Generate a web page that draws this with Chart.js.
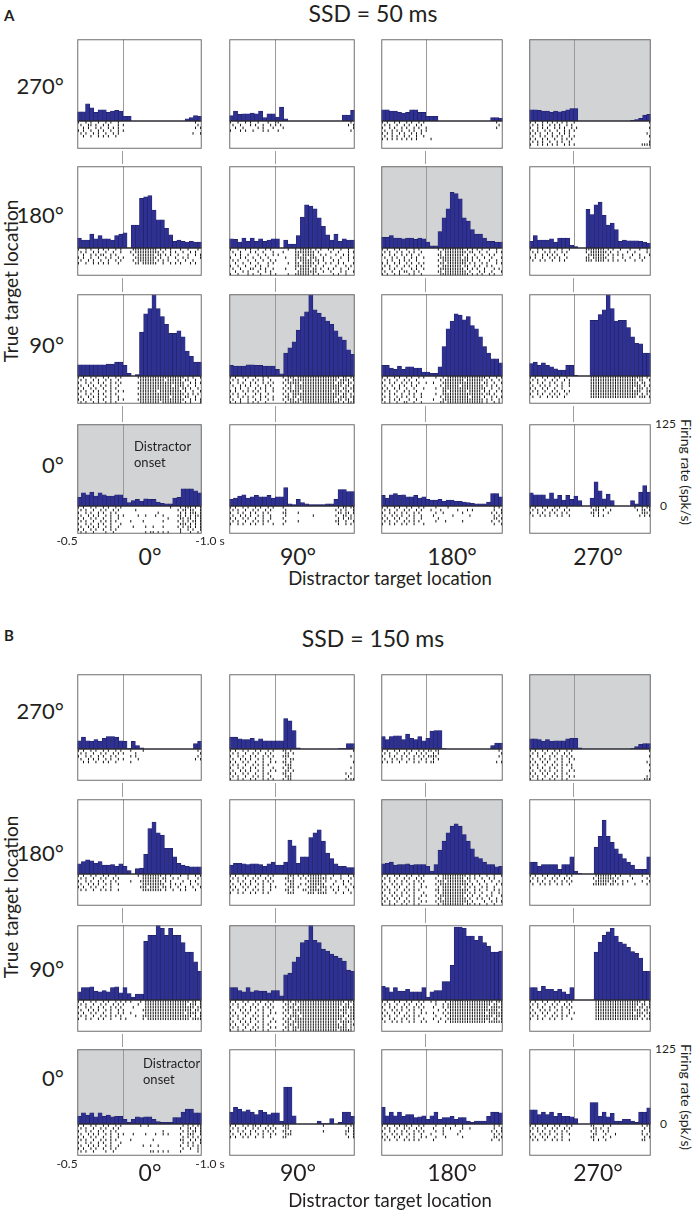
<!DOCTYPE html>
<html>
<head>
<meta charset="utf-8">
<script src="https://cdn.jsdelivr.net/npm/chart.js@4.4.1/dist/chart.umd.min.js"></script>
<style>
body { margin:0; background:#fff; font-family: Lato, "Open Sans", sans-serif; color:#231f20; }
#fig { position:relative; width:692px; height:1211px; overflow:hidden; }
.t { position:absolute; white-space:nowrap; line-height:1; }
canvas { position:absolute; }
.vl { position:absolute; width:1px; background:#9d9d9d; }
svg { position:absolute; left:0; top:0; }
</style>
</head>
<body>
<div id="fig"></div>
<script>
// time axis: 30 bins of 50 ms from -0.55 s, raster strings: 50 cells of 30 ms
const binStart = -0.55;
const binWidth = 0.05;
const rasterStep = 0.03;
const timeMax = 0.95;
const rateMax = 125;

const rowLabels = ['270°', '180°', '90°', '0°'];
const colLabels = ['0°', '90°', '180°', '270°'];
const titles = ['SSD = 50 ms', 'SSD = 150 ms'];
const panelTags = ['A', 'B'];

// firing rate (spk/s), one array per distractor location (0, 90, 180, 270)
const rateA270 = [
  [14,14,26,20,13,17,17,13,15,16,15,7,7,0,0,0,0,0,0,0,0,0,0,0,0,0,3,5,8,7],
  [8,15,10,11,11,12,11,15,5,11,11,6,21,3,0,0,0,0,0,0,0,0,0,0,0,0,0,9,9,16],
  [17,17,15,15,13,12,13,17,17,13,13,7,7,7,0,0,0,0,0,0,0,0,0,0,0,0,0,5,5,4],
  [17,17,16,15,15,13,15,14,15,17,19,19,0,0,0,0,0,0,0,0,0,0,0,0,0,1,2,4,9,10]
];
const rateA180 = [
  [15,12,12,21,14,19,14,14,12,19,21,23,0,35,35,76,78,80,58,43,43,30,20,10,12,10,9,10,9,9],
  [14,13,9,15,10,15,10,14,10,12,14,14,0,12,6,6,19,47,66,64,60,46,33,20,12,21,10,14,12,12],
  [16,16,19,15,15,14,15,15,13,15,14,9,3,3,25,46,60,85,83,75,46,41,28,21,21,15,10,10,9,9],
  [10,19,12,12,12,14,9,15,15,15,4,2,0,0,59,51,66,70,50,35,38,28,10,12,11,11,11,10,9,7]
];
const rateA90 = [
  [17,17,17,17,17,17,17,18,18,21,21,16,4,0,2,67,95,103,124,103,91,79,65,65,69,60,38,30,21,21],
  [16,15,15,15,17,17,16,16,15,15,15,10,3,35,43,52,70,91,98,124,101,96,90,84,79,69,60,55,40,33],
  [16,16,12,10,15,10,14,14,12,12,6,6,4,4,14,45,72,84,95,93,86,91,77,72,60,45,35,26,26,20],
  [19,21,16,20,16,14,11,9,9,16,16,1,0,0,0,85,85,94,101,124,103,84,85,85,74,60,50,49,35,35]
];
const rateA0 = [
  [13,20,17,21,15,20,17,15,15,17,17,12,5,8,10,7,11,10,10,6,4,3,3,12,13,26,26,26,23,20],
  [10,12,15,17,12,14,16,14,14,16,12,14,14,28,3,2,10,5,3,2,2,2,2,3,3,10,25,25,22,22],
  [16,12,17,19,16,17,14,14,16,12,14,10,9,9,10,7,9,9,7,7,6,5,4,3,3,3,6,19,19,14],
  [20,17,17,17,11,20,11,16,9,16,10,15,8,0,0,12,37,23,11,18,8,0,0,0,0,8,3,21,31,21]
];
const rateB270 = [
  [14,20,14,13,16,13,18,21,21,20,14,13,1,13,6,2,0,0,0,0,0,0,0,0,0,0,0,0,9,13],
  [20,20,17,16,16,18,14,17,14,14,14,14,14,51,47,31,2,0,0,0,0,0,0,0,0,0,1,1,9,9],
  [21,16,21,22,22,16,25,18,16,21,14,18,30,31,31,1,0,0,0,0,0,0,0,0,0,0,0,6,10,10],
  [17,17,16,13,16,13,14,14,14,17,18,18,2,0,0,0,0,0,0,0,0,0,0,0,0,1,4,8,9,9]
];
const rateB180 = [
  [17,21,24,22,18,21,15,15,16,13,17,13,6,0,9,10,33,76,87,69,65,43,43,29,18,15,13,12,12,12],
  [15,18,18,17,16,17,17,16,13,17,20,15,15,20,57,47,18,29,29,61,69,74,55,35,26,17,13,13,11,11],
  [17,18,20,15,16,16,17,15,16,16,16,13,5,16,40,55,69,80,84,80,66,55,42,29,26,20,16,16,12,13],
  [20,20,13,16,16,16,16,8,16,16,29,5,1,0,0,0,45,63,90,63,53,42,34,26,20,15,8,8,8,29]
];
const rateB90 = [
  [14,21,21,22,15,14,16,14,21,22,12,21,11,5,10,10,98,108,108,125,120,108,120,108,108,96,80,80,64,48],
  [21,21,16,14,21,14,16,15,15,12,16,16,7,42,45,64,72,96,100,125,100,96,85,82,77,73,70,65,50,48],
  [23,21,14,21,15,15,18,14,14,14,21,5,14,16,16,31,31,58,122,122,120,107,107,100,107,96,90,80,80,82],
  [21,21,15,23,18,18,15,18,14,10,21,0,0,0,0,0,80,97,108,114,120,107,97,94,88,81,78,70,48,48]
];
const rateB0 = [
  [13,19,15,19,12,19,13,15,12,13,13,8,3,8,12,11,12,12,8,4,3,3,3,11,11,20,25,25,19,19],
  [20,28,25,21,24,20,16,23,20,16,19,19,5,62,62,14,0,0,0,0,0,5,1,1,9,0,3,20,20,13],
  [28,14,20,14,20,13,16,16,11,12,14,8,14,20,8,11,11,13,8,11,11,5,3,5,5,5,13,20,20,19],
  [24,24,16,20,16,20,13,18,13,13,12,9,0,0,0,36,36,13,20,12,18,5,5,8,8,5,3,20,20,27]
];

// spike rasters, one string per trial, '|' = spike
const rasterA270 = [
  ["|..|.|..|. .|.|..|... .......... .......... .......|..",
   ".|..||.|.. |.|...|.|. .......... .......... ........|.",
   "..|.|..|.| ..|.|.|... .......... .......... .......|.|",
   "|.|..|..|. |..|..|.|. .......... .......... ..........",
   ".|.|..|.|. .|..|.|... .......... .......... ......|..|",
   "..|..|..|. |.|..|.... .......... .......... .........."],
  ["|..|..|.|. .|...|..|| .......... .......... ........|.",
   ".|..|...|. |..|..|.|. |......... .......... .......|.|",
   "..|..|.... .|.|...|.. .|........ .......... .........|",
   "|...|.|..| ...|.|...| .......... .......... ........|."],
  ["|.|..|.|.. |.|..|.|.. .......... .......... .......|..",
   ".|.|..|..| .|..|.|... .......... .......... ........|.",
   "|..|.|..|. |..|.|..|. .......... .......... .......|..",
   ".|..|.|.|. .|.|..|.|. .......... .......... ..........",
   "|.|.|..|.| ..|.|.|... .......... .......... ..........",
   ".|..|.|..| .|..|..|.. .......... .......... ..........",
   "|.|.|.|.|. |.|.|..... |......... .......... .........."],
  ["|.|..|.|.| .|.|.|..|. .......... .......... .........|",
   ".|.|.|..|. |.|..|.|.. .......... .......... ..........",
   "|..|.|.|.. |.|.|..|.| .......... .......... .........|",
   ".|.|..|.|. .|..|.|.|. .......... .......... ..........",
   "|.|.|..|.| ..|.|.|... .......... .......... ........|.",
   ".|..|.|..| .|.|..|.|. .......... .......... .........|",
   "|.|..|.|.. |..|.|.|.. .......... .......... ..........",
   ".|.|.|..|. .|.|..|... .......... .......... .........|",
   "|..|.|.|.| .|..|.|.|. .......... .......... ......||||"]
];
const rasterA180 = [
  ["|..|.|..|. |.|..|.|.. ..|||||||| ||.|.|.|.. .|..|...|.",
   ".|.|..|.|. .|..|..|.. .|.||||||| |||.|..|.| ..|..|.|..",
   "..|..|.|.| |..|.|.... ..|.|||||| |.||.|.|.. |...|..|.|",
   "|.|..|..|. .|.|..|.|. ...||||||| ||.|..|..| ..|.|....|",
   ".|..|.|..| ..|..|.|.. ..|.|||||| |.|.|.|... |..|..|...",
   "|..|..|.|. |.|...|... ...||.|||| ||..|..|.| .|...|.|.."],
  ["|..|..|.|. .|..|.|... ...|..|.|| |||.|.|..| .|..|..|..",
   ".|..|...|. |..|...|.. .|....|||| ||||.|.... |..|...|.|",
   "..|.|..|.. .|..|..|.| ......||.| ||||..|.|. ..|..|.|..",
   "|...|.|..| ..|..|.... ..|...|||| |.|||..|.. |...|..|.|",
   ".|.|...|.. |..|..|.|. ......|.|| |||.||.|.. .|.|...|..",
   "..|..|..|. .|...|.|.. ...|..||.| ||||.|..|. |..|.|...|",
   "|..|..|... |.|..|.... ......|||| |||.|..|.. ..|...|.|.",
   ".|..|...|| ..|.|..|.. ..|...|.|| ||.||.|..| .|..|..|..",
   "..|..|.|.. .|..|.|... .......||| |||||..|.. |...|.|..|",
   "|..|...|.| ..|...|.|. ...|..|||| ||.|.|.... .|.|..|..."],
  ["|.|..|.|.. |..|.|.... ...|.||||| ||||.|.|.| .|..|..|..",
   ".|.|..|.|. .|.|..|... ....|.|||| |||||.||.. |..|...|.|",
   "|..|.|..|. |.|..|.... ...||.|||| ||||.|..|. .|..|.|...",
   ".|..|.|..| ..|.|..|.. ....|||||| |||.||.|.| ..|..|...|",
   "..|.|..|.| .|..|..... ...|.||||| ||||||.|.. |...|..|..",
   "|.|..|.|.. |.|..|.|.. ....||.||| |||||.|.|. .|.|...|.|",
   ".|.|..|..| .|..|.|... ...|.||||| |||.||..|. |..|.|....",
   "|..|.|..|. ..|.|..|.. ....|||||| ||||.|.|.| ..|...|.|.",
   ".|..|..|.| |..|.|.... ...||.|||| |||||.|... |.|..|...|",
   "|.|..|.|.. .|.|..|... ....|||||| ||||||.|.| .|..|.|..."],
  ["|..|.|..|. .|.|..|... ...||||||| |.|.|..|.. .|...|..|.",
   ".|.|..|.|. |..|.|.... ...|.||||| ||.|..|... |..|....|.",
   "..|..|.|.| .|..|..... ....|||||| |.|.|.|.|. ..|..|...|",
   "|.|..|..|. |.|..|.... ...||.|||| ||..|...|. .|...|.|..",
   ".|..|.|..| ..|.|..... ...|||.||| |.|.|.|..| ...|..|..."]
];
const rasterA90 = [
  ["|.|..|.|.. |.|..|.|.. ....|||||| |||||||||| |||.|.|..|",
   ".|.|..|.|. .|.|..|... .....||||| |||||.|||| ||.||..|..",
   "|..|.|..|. |..|.|.|.. ....|||||| |||||||||| |||..|.|.|",
   ".|..|.|..| .|.|..|... .....||||| ||||||||.| |||.|..|..",
   "|.|..|.|.. |..|.|.... ....|||||| |||||||||| |.||.|..|.",
   ".|.|..|.|. .|.|..|.|. .....||||| ||.||||||| ||.|..|..|",
   "|..|.|..|. |..|.|.... ....|||||| |||||||||| |||.|.|.|.",
   ".|..|.|.|. .|.|..|... .....||||| |||||||.|| ||.||..|..",
   "|.|..|..|. |..|..|.|. ....|||||| |||||||||| |||..|.|.|",
   ".|.|..|.|. .|.|.|.... .....||||| |||.|||||| ||.|.|...|"],
  ["|.|..|.|.. |..|.|.... .|.|||.||| |||||||||| ||||.||.||",
   ".|.|..|..| .|.|..|... ..||.||||| |||||||||| |||.||||.|",
   "|..|.|..|. |..|.|.|.. .|.|||||.| |||||||||| ||.|||.||.",
   ".|..|.|.|. .|..|.|... ..|.|.|||| |||||||||| |||||.||.|",
   "..|.|..|.. |.|.|..|.. .|.||.|||| |||||||||| ||||.||.||",
   "|.|..|.|.| .|..|..|.. ..|.||||.| |||||||||| |.|||.||.|",
   ".|.|..|... |.|..|.... .|.|.||||| |||||||||| ||||.||.|.",
   "|..|.|.|.| ..|.|..|.. ..||.||.|| |||||||||| |||.|||.||",
   ".|..|..|.. |.|..|.|.. .|.|||.||| |||||||||| ||.||.||.|",
   "|.|.|..|.| .|..|..... ..|.||||.| |||||||||| ||||.|.|||"],
  ["|.|..|.|.. |.|..|.|.. ..|..|.||| |||||||||| |||.|..|.|",
   ".|.|..|..| .|..|..... ....|.|||| ||||.||||| ||.|.|..|.",
   "|..|.|..|. |.|..|..|. .|...||||| |||||||||| |.||..|..|",
   ".|..|..|.| ..|.|..... ....|.|||| ||.||||||| ||.|.|.|..",
   "|.|..|.|.. |..|...|.. ..|..||||| |||||||||| |||..|..|.",
   ".|.|..|..| .|..|..... .....||.|| |||||.|||| |.|.|..|.|",
   "|..|.|..|. .|.|..|... ..|..||||| |||||||||| ||.||.|...",
   ".|.|..|.|. |..|..|... ....|.|||| ||||||.||| |.|..|.|.|",
   "|..|.|.|.. .|..|..... .|...||||| |||||||||| ||.|.|..|.",
   ".|.|..|..| |..|..|.. .....||.|| |||||||||| |||.|..|.|"],
  ["|.|..|.|.. |.|..|.... .....||||| |||||||||| |||||||.|.",
   ".|.|..|..| .|..|.|... .....||||| |||||||||| ||||.||..|",
   "|..|.|..|. |..|..|... .....||||| |||||||||| |||||.||..",
   ".|..|.|.|. .|.|..|... .....||||| |||||||||| ||||||.|.|",
   "|.|..|.|.. |..|...... .....||||| |||||||||| |||.|||.|.",
   ".|.|..|..| .|..|.|... .....||||| |||||||||| ||||||..||",
   "|..|.|..|. |.|..|.... .....||||| |||||||||| |||||.|.|.",
   ".|..|..|.| .|..|..... .....||||| |||||||||| ||||.|||.|"]
];
const rasterA0 = [
  ["|.|..|.|.. |.|..|.|.. .......... .......|.. .|.|||.|.|",
   ".|.|..|..| .|..|.|... ...|...... .......... |.||.||..|",
   "|..|.|..|. |..|.|.... .......... ..|....... .|.|.|||.|",
   ".|..|.|.|. .|.|..|.|. ....|..|.. .|..|..... ||.|.|.|||",
   "|.|..|.|.. |..|..|... .......... ......|... .||.||.|.|",
   ".|.|..|..| .|.|.|.... .|....|... ....|..... |.|.|.||.|",
   "|..|.|..|. |..|...|.. .......... .......... .|||.|.|.|",
   ".|..|.|.|. .|.|..|... ..|....|.. |...|..... |.|.||.|.|",
   "|.|..|.|.. |..|.|.... .......... .......... .|..|.|..|",
   ".|.|..|... .|..|..... .......|.| |.|.|.|... .|...|..|."],
  ["|.|..|.|.. |.|..|.|.. .|........ .......... ...|.||.||",
   ".|.|..|..| .|..|.|... ..|....... .......... ..|.|.|..|",
   "|..|.|..|. |..|.|.... .||....|.. .......... ...||.||.|",
   ".|..|.|.|. .|.|..|... ..|....... ...|...... ..|..||.|.",
   "|.|..|.|.. |..|..|... .|........ .......... ...|.|.||.",
   ".|.|..|..| .|.|.|.... ..|....|.. .......... ..||..|..|",
   "|..|.|..|. |..|...|.. .|........ .......... ...|..|.|."],
  ["|.|..|.|.. |.|..|.|.. ..|....|.. .......... ......|.|.",
   ".|.|..|..| .|..|.|... |...|..... .|...|.|.. ......|..|",
   "|..|.|..|. |..|.|.... ..|..|.... ...|...... .....|.|.|",
   ".|..|.|.|. .|.|..|... .|.......| ......|... ......|.|.",
   "|.|..|.|.. |..|..|... ...|...... .......... ......||.|",
   ".|.|..|..| .|.|.|.... ..|...|... ...|...... .....|..|.",
   "|..|.|..|. |..|...|.. .......... .......... ......|..|"],
  ["|.|..|.|.. |.|..|.... .....|.||. .|........ ...|..|.||",
   ".|.|..|..| .|..|.|... ......|||. |..|...... ....|.||.|",
   "|..|.|..|. |..|.|.... .....||.|. ..|....... ......|||.",
   ".|..|.|.|. .|.|..|... ......|.|. |......... .....|.|.|"]
];
const rasterB270 = [
  ["|.|..|.|.. |.|..|.|.. .|....|... .......... ........|.",
   ".|.|..|..| .|..|.|.|. ...|...... .......... .........|",
   "|..|.|..|. |..|.|.... .|.|...... .......... ........|.",
   ".|..|.|.|. .|.|..|.|. ....|..... .......... .......|.|",
   "..|.|..|.. |.|..|.... .|........ .......... .........."],
  ["|.|..|.|.. |.|..|.|.. .||.|..... .......... .........|",
   ".|.|..|..| .|..|.|... ..||.|.... .......... ..........",
   "|..|.|..|. |..|.|.|.. .|||...... .......... ........|.",
   ".|..|.|.|. .|.|..|... ..|.||.... .......... ..........",
   "|.|..|.|.. |..|..|.|. .||.|..... .......... .........|",
   ".|.|..|..| .|.|.|.... ..|||..... .......... ..........",
   "|..|.|..|. |..|...|.. .|.||..... .......... ........|.",
   ".|..|.|.|. .|.|..|.|. ..||.|.... .......... ..........",
   "|.|..|.|.. |..|.|.... .||.|..... .......... ......|.|.",
   ".|.|..|..| .|.|..|... ..|||..... .......... .......|..",
   "|..|.|..|. |..|.|.|.. .|.||..... .......... ......|.||"],
  ["|.|..|.|.. |.|..|.|.| |.||...... .......... ........|.",
   ".|.|..|..| .|..|.|.|. .|.|...... .......... .........|",
   "|..|.|..|. |..|.|.|.| |||....... .......... ........|.",
   ".|..|.|.|. .|.|..|.|. .|.|...... .......... ..........",
   "|.|.|..|.. |..|.|..|. ||........ .......... .......|.|"],
  ["|.|..|.|.. |.|..|.|.. .......... .......... .........|",
   ".|.|..|..| .|..|.|... .......... .......... ..........",
   "|..|.|..|. |..|.|.|.. .......... .......... .........|",
   ".|..|.|.|. .|.|..|.|. .......... .......... ..........",
   "|.|..|.|.. |..|..|... .......... .......... ........|.",
   ".|.|..|..| .|.|.|.|.. .......... .......... .........|",
   "|..|.|..|. |..|...|.. .......... .......... ..........",
   ".|..|.|.|. .|.|..|.|. .......... .......... .........|",
   "|.|..|.|.. |..|.|.... .......... .......... ..........",
   ".|.|..|..| .|.|..|.|. .......... .......... ........|.",
   "|..|.|..|. |..|.|.... .......... .......... .......|||"]
];
const rasterB180 = [
  ["|.|..|.|.. |.|..|.... ....|.|||| ||||.|.|.. .|..|..|.|",
   ".|.|..|..| .|..|.|... ......|||| |||.||..|. |...|...|.",
   "|..|.|..|. |..|.|.... .|...||||| ||||.|.|.. ..|..|.|..",
   ".|..|.|.|. .|.|..|... ......|||| |||||..|.| .|...|..|.",
   "|.|..|.|.. |..|...... .....|||.| |||.||.|.. |..|..|..|",
   ".|.|..|..| .|.|..|... ......|||| ||||.|..|. .|.|...|.."],
  ["|.|..|.|.. |.|..|.|.. ...|||.|.| .||||||.|. .|..|..|.|",
   ".|.|..|..| .|..|.|... ..||.|..|. |.|||||||. |...|...|.",
   "|..|.|..|. |..|.|.|.. ...|||.... .||||||.|. ..|..|.|..",
   ".|..|.|.|. .|.|..|... ..|.||..|. |.||||||.. .|...|..|.",
   "|.|..|.|.. |..|..|.|. ...|||.|.. .||||.|||. |..|..|..|",
   ".|.|..|..| .|.|..|... ..||.|...| |.|||||.|. .|.|...|..",
   "|..|.|..|. |..|.|.... ...|||.... .|||.||||. ..|..|..|."],
  ["|.|..|.|.. |.|..|.|.. ...|.||||| |||||.|.|. |..|..|..|",
   ".|.|..|..| .|..|.|... ..|..||||| ||||.||.|. .|..|.|...",
   "|..|.|..|. |..|.|.|.. ...|||.||| |||||.|..| ..|..|..|.",
   ".|..|.|.|. .|.|..|... ..|.|||||| ||||||.|.. |..|...|.|",
   "|.|..|.|.. |..|..|.|. ...|.||||| |||.|.|.|. .|.|..|...",
   ".|.|..|..| .|.|.|.... ..||.||||| ||||||..|. |..|..|.|.",
   "|..|.|..|. |..|...|.. ...|.||||| |||||.|.|. .|...|..|.",
   ".|..|.|.|. .|.|..|.|. ..|.|||||| ||||.|.|.. |..|.|...|",
   "|.|..|.|.. |..|.|.... ...||.|||| |||||.|..| .|..|..|..",
   ".|.|..|..| .|.|..|.|. ..|.|||||| ||||||.|.. ..|..|.|.|",
   "|..|.|..|. |..|.|.... ...|.||||| ||||.||.|. |..|..|..."],
  ["|.|..|.|.. |.|..|.|.. .......||| ||||.|.|.. .|....|..|",
   ".|.|..|..| .|..|.|... ......|.|| |||||.|... ..|.....|.",
   "|..|.|..|. |..|.|.|.. .......||| |||.||..|. |.....|..|",
   ".|..|.|.|. .|.|..|... ......|||| ||.||.|.|. ...|....|."]
];
const rasterB90 = [
  ["|.|..|.|.. |.|..|.|.| .|...|.||| |||||||||| |||||.||.|",
   ".|.|..|..| .|..|.|.|. ....|..||| |||||||||| ||||.|||.|",
   "|..|.|..|. |..|.|.|.. ..|....||| |||||||||| |||||||.||",
   ".|..|.|.|. .|.|..|.|. ......|||| |||||||||| ||||||.||.",
   "|.|..|.|.. |..|..|.|. .|.....||| |||||||||| |||.||||.|",
   ".|.|..|..| .|.|.|.|.. ...|..|||| |||||||||| ||||||.|.|",
   "|..|.|..|. |..|...|.| ......|.|| |||||||||| |||||.||||"],
  ["|.|..|.|.. |.|..|.|.. .|.||.|||| |||||||||| ||||||.|||",
   ".|.|..|..| .|..|.|... ..||.||.|| |||||||||| |||||.||.|",
   "|..|.|..|. |..|.|.|.. .|.|||.||| |||||||||| ||||.|||||",
   ".|..|.|.|. .|.|..|... ..||.||||| |||||||||| |||||||.||",
   "|.|..|.|.. |..|..|.|. .|.|.||.|| |||||||||| ||||.||.||",
   ".|.|..|..| .|.|.|.... ..|.||||.| |||||||||| ||||||.|||",
   "|..|.|..|. |..|...|.. .|.||.|||| |||||||||| |||||.|.||",
   ".|..|.|.|. .|.|..|.|. ..||.||||| |||||||||| |||.|||||.",
   "|.|..|.|.. |..|.|.... .|.|||.||| |||||||||| ||||.||.||",
   ".|.|..|..| .|.|..|.|. ..||.||||| |||||||||| |||||||.|.",
   "|..|.|..|. |..|.|.... .|.|.||.|| |||||||||| |||.|||||."],
  ["|.|..|.|.. |.|..|.|.. |.|...|.|| |||||||||| ||||||.|||",
   ".|.|..|..| .|..|.|... ..|..|.||| |||||||||| |||||.||.|",
   "|..|.|..|. |..|.|.|.. .|...|.||| |||||||||| ||||.|||||",
   ".|..|.|.|. .|.|..|... ...|..|.|| |||||||||| ||||||||.|",
   "|.|..|.|.. |..|..|.|. .|...|.||| |||||||||| |||.||||||",
   ".|.|..|..| .|.|.|.... ..|...|.|| |||||||||| ||||||.|||",
   "|..|.|..|. |..|...|.. .|..|..||| |||||||||| |||||.||.|",
   ".|..|.|.|. .|.|..|.|. ...|..|.|| |||||||||| |||.||||||"],
  ["|.|..|.|.. |.|..|.|.. .......||| |||||||||| ||||||.|.|",
   ".|.|..|..| .|..|.|... .......||| |||||||||| |||||.||.|",
   "|..|.|..|. |..|.|.|.. .......||| |||||||||| ||||.||.||",
   ".|..|.|.|. .|.|..|... .......||| |||||||||| ||||||.||.",
   "|.|..|.|.. |..|..|.|. .......||| |||||||||| |||.|||.||",
   ".|.|..|..| .|.|.|.... .......||| |||||||||| ||||||.|.|",
   "|..|.|..|. |..|...|.. .......||| |||||||||| |||||.|.||"]
];
const rasterB0 = [
  ["|.|..|.|.. |.|..|.|.. .....|..|. .......... ..|.|.|.||",
   ".|.|..|..| .|..|.|... .......... .......... .|..||.|.|",
   "|..|.|..|. |..|.|.... .......... ....|..... ..|.|.||.|",
   ".|..|.|.|. .|.|..|.|. ..|....|.. .|..|.|... .|..|||..|",
   "|.|..|.|.. |..|..|... .......... .......... ..|.|.|.|.",
   ".|.|..|..| .|.|.|.... .|........ |......... .||..|.|.|",
   "|..|.|..|. |..|...|.. .......... .......... ..|.|.|..|",
   ".|..|.|.|. .|.|..|... ......|..| ..|....... .|..|.|.|.",
   "|.|..|.|.. |..|.|.... .......... .......... ..|..|..|.",
   ".|.|..|... .|..|..... .........| |.|.|.|... .|......|."],
  ["|.|..|.|.| |.|..|.|.. .|||...... .......|.. ......|.||",
   ".|.|..|..| .|..|.|.|. ..||...... .......... .......|.|",
   "|..|.|..|. |..|.|.|.. .||.|..... .......|.. ......||.|",
   ".|..|.|.|. .|.|..|.|. ..|||..... .......... ......|..|",
   "|.|..|.|.. |..|..|... .||....... .......... .......|.|"],
  ["|.|..|.|.| |.|..|.|.. ..|...|... |..|...... ......|.|.",
   ".|.|..|..| .|..|.|... .|...|..|. ...|..|... ......|..|",
   "|..|.|..|. |..|.|.|.. ..|..|.... ..|....... .....|.|.|",
   ".|..|.|.|. .|.|..|... |....|.... .|........ ......|.|.",
   "|.|..|.|.. |..|..|.|. ..|...|... ...|...... ......||.|",
   ".|.|..|..| .|.|.|.... .|........ .......... .....|..|."],
  ["|.|..|.|.. |.|..|.|.. .....||... |..|...... ......|.||",
   ".|.|..|..| .|..|.|... ......||.| ..|....... .......|.|",
   "|..|.|..|. |..|.|.... .....|.|.. |.|....... ......|..|",
   ".|..|.|.|. .|.|..|... ......||.. .|...|.... ......|.|.",
   "|.|..|.|.. |..|...... .....||... |..|...... .......|.|",
   ".|.|..|..| .|.|..|... ......|.|. .|........ ......||.."]
];

// ---- layout ----
const colLeft = [75, 227, 379, 527];
const colWidth = [129, 130, 126, 126];
const sets = [
  { rowTop: [37, 164, 292, 422], histH: 85, rasterH: 29, rowPx: 2.9,
    rates: [rateA270, rateA180, rateA90, rateA0], rasters: [rasterA270, rasterA180, rasterA90, rasterA0],
    tagY: 15, titleY: 13, rowLabelY: [86, 215, 345, 465], tickY: 541, colLabelY: 556, axisY: 578, sideY: 281,
    noteX: 134, noteY: 446, arrow: [131, 443, 123, 436] },
  { rowTop: [672, 797, 923, 1047], histH: 78, rasterH: 33, rowPx: 3,
    rates: [rateB270, rateB180, rateB90, rateB0], rasters: [rasterB270, rasterB180, rasterB90, rasterB0],
    tagY: 635, titleY: 638, rowLabelY: [711, 853, 969, 1078], tickY: 1164, colLabelY: 1172, axisY: 1200, sideY: 897,
    noteX: 143, noteY: 1063, arrow: [139, 1061, 126, 1055] }
];
const colLabelX = [150, 298, 452, 598];

const fig = document.getElementById('fig');

function addText(txt, x, y, size, opts) {
  opts = opts || {};
  const d = document.createElement('div');
  d.className = 't';
  d.textContent = txt;
  d.style.left = x + 'px';
  d.style.top = y + 'px';
  d.style.fontSize = size + 'px';
  const ax = opts.align === 'left' ? '0' : opts.align === 'right' ? '-100%' : '-50%';
  d.style.transform = 'translate(' + ax + ',-50%)' + (opts.rotate ? ' rotate(' + opts.rotate + 'deg)' : '');
  if (opts.bold) d.style.fontWeight = 'bold';
  fig.appendChild(d);
}

function panelPlugin(gray) {
  return {
    id: 'panelFrame',
    beforeDatasetsDraw(chart) {
      const { ctx, chartArea: a, scales } = chart;
      const y0 = Math.round(scales.y.getPixelForValue(0));
      const xo = Math.round(scales.x.getPixelForValue(0)) + 0.5;
      ctx.save();
      ctx.fillStyle = gray ? '#d1d3d4' : '#ffffff';
      ctx.fillRect(a.left, a.top, a.right - a.left, y0 - a.top);
      ctx.fillStyle = '#ffffff';
      ctx.fillRect(a.left, y0, a.right - a.left, a.bottom - y0);
      ctx.strokeStyle = '#9a9a9a';
      ctx.lineWidth = 1;
      ctx.beginPath();
      ctx.moveTo(xo, a.top);
      ctx.lineTo(xo, y0);
      ctx.stroke();
      ctx.restore();
    },
    afterDatasetsDraw(chart) {
      const { ctx, chartArea: a, scales } = chart;
      const y0 = Math.round(scales.y.getPixelForValue(0));
      ctx.save();
      ctx.strokeStyle = '#2b2b33';
      ctx.lineWidth = 1.6;
      ctx.beginPath();
      ctx.moveTo(a.left, y0);
      ctx.lineTo(a.right, y0);
      ctx.stroke();
      ctx.strokeStyle = '#6d6e71';
      ctx.lineWidth = 1;
      ctx.strokeRect(a.left + 0.5, a.top + 0.5, a.right - a.left - 1, a.bottom - a.top - 1);
      ctx.restore();
    }
  };
}

function makePanel(s, left, top, w, rates, raster, gray) {
  const cv = document.createElement('canvas');
  cv.width = w;
  cv.height = s.histH + s.rasterH;
  cv.style.left = left + 'px';
  cv.style.top = top + 'px';
  fig.appendChild(cv);

  const bars = rates.map((v, i) => ({ x: binStart + (i + 0.5) * binWidth, y: v }));
  const ticks = [];
  raster.forEach((row, r) => {
    row.replace(/ /g, '').split('').forEach((ch, k) => {
      if (ch === '|') ticks.push({ x: binStart + (k + 0.5) * rasterStep, y: r + 0.5 });
    });
  });

  new Chart(cv, {
    type: 'bar',
    data: {
      datasets: [{
        type: 'bar',
        data: bars,
        yAxisID: 'y',
        backgroundColor: '#2e3192',
        borderColor: '#1e1f63',
        borderWidth: 0.6,
        borderSkipped: 'start',
        barPercentage: 1,
        categoryPercentage: 1
      }, {
        type: 'scatter',
        data: ticks,
        yAxisID: 'yr',
        pointStyle: 'line',
        rotation: 90,
        radius: 1.25,
        borderColor: '#111111',
        borderWidth: 1,
        pointHoverRadius: 0
      }]
    },
    options: {
      responsive: false,
      animation: false,
      devicePixelRatio: 1,
      events: [],
      layout: { padding: 0 },
      plugins: { legend: { display: false }, tooltip: { enabled: false } },
      scales: {
        x: { type: 'linear', min: binStart, max: timeMax, offset: false, display: false },
        y: { type: 'linear', min: -rateMax * s.rasterH / s.histH, max: rateMax, display: false },
        yr: { type: 'linear', reverse: true, min: -s.histH / s.rowPx, max: s.rasterH / s.rowPx, display: false }
      }
    },
    plugins: [panelPlugin(gray)]
  });
}

const svgNS = 'http://www.w3.org/2000/svg';
const svg = document.createElementNS(svgNS, 'svg');
svg.setAttribute('width', 692);
svg.setAttribute('height', 1211);
fig.appendChild(svg);

sets.forEach((s, si) => {
  const panelH = s.histH + s.rasterH;
  // onset line continuing through the gaps between rows
  for (let c = 0; c < 4; c++) {
    const xo = colLeft[c] + Math.round((0 - binStart) / (timeMax - binStart) * colWidth[c]);
    for (let r = 0; r < 3; r++) {
      const d = document.createElement('div');
      d.className = 'vl';
      d.style.left = xo + 'px';
      d.style.top = (s.rowTop[r] + panelH) + 'px';
      d.style.height = (s.rowTop[r + 1] - s.rowTop[r] - panelH) + 'px';
      fig.appendChild(d);
    }
  }
  for (let r = 0; r < 4; r++) {
    for (let c = 0; c < 4; c++) {
      makePanel(s, colLeft[c], s.rowTop[r], colWidth[c], s.rates[r][c], s.rasters[r][c], c === 3 - r);
    }
    addText(rowLabels[r], 64, s.rowLabelY[r], 22, { align: 'right' });
  }

  addText(panelTags[si], 4, s.tagY, 15, { align: 'left', bold: true });
  addText(titles[si], 373, s.titleY, 23);
  colLabels.forEach((t, c) => addText(t, colLabelX[c], s.colLabelY, 23));
  addText('-0.5', 67, s.tickY, 12);
  addText('-1.0 s', 210, s.tickY, 12);
  addText('Distractor target location', 390, s.axisY, 18.5);
  addText('True target location', 10, s.sideY, 19, { rotate: -90 });

  const r4 = s.rowTop[3];
  addText('125', 655, r4 + 2, 12, { align: 'left' });
  addText('0', 660, r4 + s.histH - 1, 12, { align: 'left' });
  addText('Firing rate (spk/s)', 686, r4 + 50, 14, { rotate: 90 });

  addText('Distractor', s.noteX, s.noteY, 13, { align: 'left' });
  addText('onset', s.noteX, s.noteY + 16, 13, { align: 'left' });
  const [x1, y1, x2, y2] = s.arrow;
  const ln = document.createElementNS(svgNS, 'line');
  ln.setAttribute('x1', x1); ln.setAttribute('y1', y1);
  ln.setAttribute('x2', x2 + 2); ln.setAttribute('y2', y2 + 2);
  ln.setAttribute('stroke', '#231f20'); ln.setAttribute('stroke-width', '0.8');
  svg.appendChild(ln);
  const ang = Math.atan2(y1 - y2, x1 - x2);
  const hd = document.createElementNS(svgNS, 'polygon');
  const p1 = [x2 + 4 * Math.cos(ang - 0.45), y2 + 4 * Math.sin(ang - 0.45)];
  const p2 = [x2 + 4 * Math.cos(ang + 0.45), y2 + 4 * Math.sin(ang + 0.45)];
  hd.setAttribute('points', x2 + ',' + y2 + ' ' + p1.join(',') + ' ' + p2.join(','));
  hd.setAttribute('fill', '#231f20');
  svg.appendChild(hd);
});
</script>
</body>
</html>
